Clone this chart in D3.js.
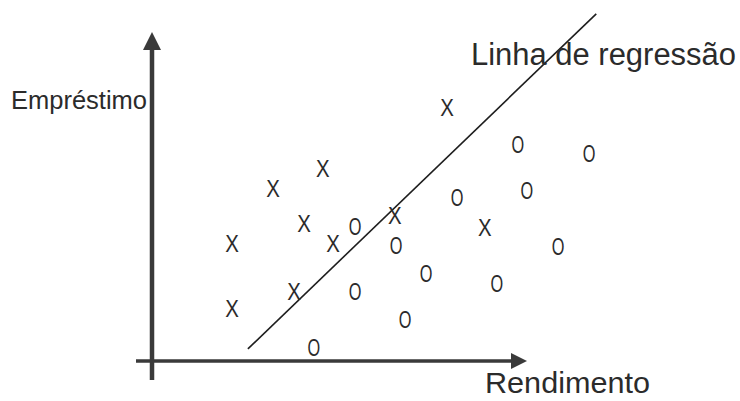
<!DOCTYPE html>
<html>
<head>
<meta charset="utf-8">
<script src="https://cdn.jsdelivr.net/npm/d3@7"></script>
<style>
  html, body { margin: 0; padding: 0; background: #fff; }
  svg { display: block; }
  text { font-family: "Liberation Sans", Arial, Helvetica, sans-serif; fill: #2b2b2b; }
</style>
</head>
<body>
<svg id="chart" width="740" height="401"></svg>
<script>
// ---- Data (arbitrary units) ----
const xClassRendimento = [3.28, 4.61, 4.11, 2.19, 4.88, 6.53, 7.92, 8.93, 3.84, 2.19];
const xClassEmprestimo = [5.29, 5.91, 4.22, 3.60, 3.60, 4.46, 7.78, 4.09, 2.15, 1.60];
const oClassRendimento = [5.47, 6.56, 5.47, 4.37, 6.80, 7.36, 9.25, 8.19, 10.05, 9.81, 11.71, 10.88];
const oClassEmprestimo = [4.12, 3.54, 2.15, 0.43, 1.29, 2.68, 2.37, 5.02, 5.23, 6.65, 6.37, 3.51];
const regressionRendimento = [2.61, 11.9];
const regressionEmprestimo = [0.37, 10.65];
const xAxisLabel = "Rendimento";
const yAxisLabel = "Empréstimo";
const lineLabel = "Linha de regressão";
const xMarker = "X";
const oMarker = "O";

// ---- Layout ----
const svg = d3.select("#chart");
const x = d3.scaleLinear().domain([0, 10]).range([150, 525]);
const y = d3.scaleLinear().domain([0, 10]).range([361, 35]);
const axisColor = "#3a3a3a";

// Axes (plain arrows, no ticks)
const [x0, x1] = x.range();
const [y0, y1] = y.range();
svg.append("line")
  .attr("x1", x0 - 14).attr("x2", x1 - 10)
  .attr("y1", y0).attr("y2", y0)
  .attr("stroke", axisColor).attr("stroke-width", 3.5);
svg.append("path")
  .attr("d", `M${x1 + 2},${y0} L${x1 - 14},${y0 - 8} L${x1 - 14},${y0 + 8} Z`)
  .attr("fill", axisColor);

svg.append("line")
  .attr("x1", x0 + 2).attr("x2", x0 + 2)
  .attr("y1", y0 + 19).attr("y2", y1 + 10)
  .attr("stroke", axisColor).attr("stroke-width", 4.5);
svg.append("path")
  .attr("d", `M${x0 + 2},${y1 - 3} L${x0 - 7},${y1 + 15} L${x0 + 11},${y1 + 15} Z`)
  .attr("fill", axisColor);

// Regression line
svg.append("line")
  .attr("x1", x(regressionRendimento[0])).attr("y1", y(regressionEmprestimo[0]))
  .attr("x2", x(regressionRendimento[1])).attr("y2", y(regressionEmprestimo[1]))
  .attr("stroke", "#1e1e1e").attr("stroke-width", 1.6);

// Markers
const xPts = xClassRendimento.map((v, i) => ({ r: v, e: xClassEmprestimo[i] }));
const oPts = oClassRendimento.map((v, i) => ({ r: v, e: oClassEmprestimo[i] }));

svg.append("g").selectAll("text").data(xPts).join("text")
  .attr("transform", d => `translate(${x(d.r)},${y(d.e)}) scale(0.85,1)`)
  .attr("text-anchor", "middle")
  .attr("dy", "0.36em")
  .attr("font-size", 24)
  .text(xMarker);

svg.append("g").selectAll("text").data(oPts).join("text")
  .attr("transform", d => `translate(${x(d.r)},${y(d.e)}) scale(0.68,1)`)
  .attr("text-anchor", "middle")
  .attr("dy", "0.36em")
  .attr("font-size", 24)
  .text(oMarker);

// Labels
svg.append("text")
  .attr("x", 11).attr("y", 109)
  .attr("font-size", 26)
  .attr("textLength", 136).attr("lengthAdjust", "spacingAndGlyphs")
  .text(yAxisLabel);

svg.append("text")
  .attr("x", 471).attr("y", 65)
  .attr("font-size", 31)
  .attr("textLength", 265).attr("lengthAdjust", "spacingAndGlyphs")
  .text(lineLabel);

svg.append("text")
  .attr("x", 485).attr("y", 393)
  .attr("font-size", 29)
  .attr("textLength", 165).attr("lengthAdjust", "spacingAndGlyphs")
  .text(xAxisLabel);
</script>
</body>
</html>
